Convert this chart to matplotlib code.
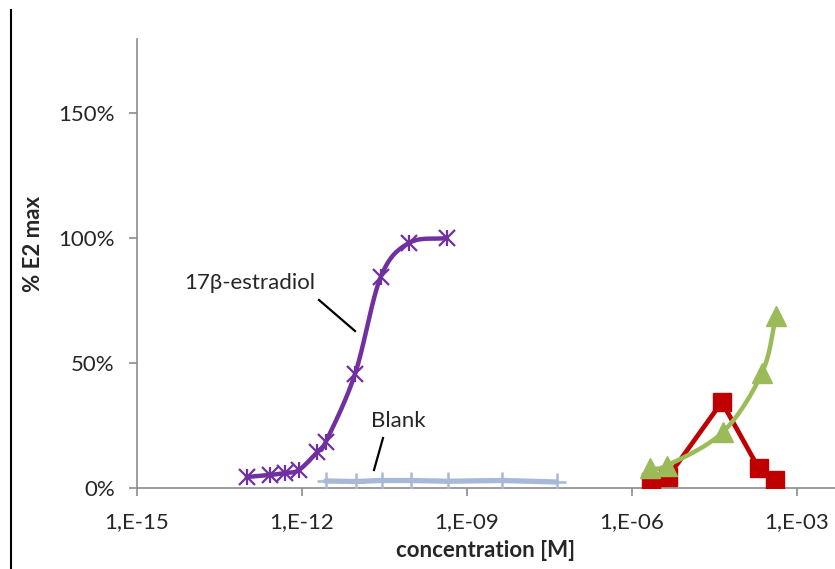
import numpy as np
import matplotlib
matplotlib.use("Agg")
import matplotlib.pyplot as plt
from matplotlib.lines import Line2D

plt.rcParams['font.family'] = ['Lato', 'DejaVu Sans']

# 17b-estradiol
e2_conc = [1e-13, 2.6e-13, 4.9e-13, 8.8e-13, 1.9e-12, 2.7e-12, 9.2e-12, 2.7e-11, 8.8e-11, 4.3e-10]
e2_resp = [0.044, 0.052, 0.060, 0.072, 0.144, 0.184, 0.456, 0.844, 0.980, 1.000]

# blank
blank_conc = [2.7e-12, 9.6e-12, 2.8e-11, 9.4e-11, 4.5e-10, 4.4e-09, 4.3e-08]
blank_resp = [0.028, 0.026, 0.030, 0.030, 0.027, 0.030, 0.024]

# red squares
red_conc = [2.2e-06, 4.5e-06, 4.3e-05, 2.0e-04, 4.0e-04]
red_resp = [0.024, 0.044, 0.344, 0.080, 0.032]

# green triangles
green_conc = [2.1e-06, 4.3e-06, 4.5e-05, 2.3e-04, 4.2e-04]
green_resp = [0.080, 0.090, 0.224, 0.460, 0.690]

xticks = [1e-15, 1e-12, 1e-09, 1e-06, 1e-03]
xticklabels = ['1,E-15', '1,E-12', '1,E-09', '1,E-06', '1,E-03']
yticks = [0, 0.5, 1.0, 1.5]
yticklabels = ['0%', '50%', '100%', '150%']


def smooth(xs, ys, n=30):
    # catmull-rom in log-x space, like excel's smoothed line
    lx = np.log10(xs)
    y = np.asarray(ys, dtype=float)
    px = np.concatenate([[2 * lx[0] - lx[1]], lx, [2 * lx[-1] - lx[-2]]])
    py = np.concatenate([[2 * y[0] - y[1]], y, [2 * y[-1] - y[-2]]])
    outx, outy = [], []
    t = np.linspace(0, 1, n)
    for i in range(1, len(px) - 2):
        for arr, out in ((px, outx), (py, outy)):
            p0, p1, p2, p3 = arr[i - 1], arr[i], arr[i + 1], arr[i + 2]
            seg = 0.5 * ((2 * p1) + (-p0 + p2) * t
                         + (2 * p0 - 5 * p1 + 4 * p2 - p3) * t ** 2
                         + (-p0 + 3 * p1 - 3 * p2 + p3) * t ** 3)
            out.extend(seg)
    return 10 ** np.array(outx), np.array(outy)


fig = plt.figure(figsize=(8.35, 5.69), dpi=100)
ax = fig.add_axes([137 / 835, 1 - 488 / 569, 1 - 137 / 835, 449 / 569])

purple = '#7030A0'
blue = '#A7B9D6'
red = '#C00000'
green = '#9BBB59'
fs = 16

# blank
ax.plot(blank_conc, blank_resp, color=blue, lw=3.8, solid_capstyle='round', zorder=2)
ax.plot(blank_conc, blank_resp, ls='none', marker='+', ms=13, mew=1.8, color=blue, zorder=3)

# estradiol
sx, sy = smooth(e2_conc, e2_resp)
ax.plot(sx, sy, color=purple, lw=3.2, zorder=4)
ax.plot(e2_conc, e2_resp, ls='none', marker='x', ms=11, mew=1.6, color=purple, zorder=5)
ax.plot(e2_conc, e2_resp, ls='none', marker='|', ms=11, mew=1.6, color=purple, zorder=5)

# red
ax.plot(red_conc, red_resp, color=red, lw=3.4, marker='s', ms=13.5, zorder=4)

# green
gx, gy = smooth(green_conc, green_resp)
ax.plot(gx, gy, color=green, lw=3.2, zorder=5)
ax.plot(green_conc, green_resp, ls='none', marker='^', ms=14, color=green, zorder=6)

ax.set_xscale('log')
ax.set_xlim(1e-15, 10 ** (-3 + 38 / 55))
ax.set_ylim(0, 449 / 250)
ax.xaxis.set_minor_locator(matplotlib.ticker.NullLocator())
ax.set_xticks(xticks)
ax.set_xticklabels(xticklabels)
ax.set_yticks(yticks)
ax.set_yticklabels(yticklabels)

for s in ('top', 'right'):
    ax.spines[s].set_visible(False)
for s in ('left', 'bottom'):
    ax.spines[s].set_color('#8C8C8C')
    ax.spines[s].set_linewidth(1.2)
ax.tick_params(axis='both', colors='#8C8C8C', labelcolor='#262626', labelsize=fs,
               length=6, width=1.2, direction='out')
ax.tick_params(axis='x', pad=11)
ax.tick_params(axis='y', pad=10)

ax.set_xlabel('concentration [M]', fontsize=fs, fontweight='bold', color='#262626', labelpad=6)
fig.text(33 / 835, 1 - 244 / 569, '% E2 max', rotation=90, fontsize=fs, fontweight='bold',
         color='#262626', ha='center', va='center')

# annotations
ax.text(10 ** (-15 + (250 - 137) / 55), (488 - 283) / 250, '17\u03b2-estradiol', fontsize=fs,
        color='#262626', ha='center', va='center')
ax.plot([10 ** (-15 + (319 - 137) / 55), 10 ** (-15 + (355 - 137) / 55)],
        [(488 - 300) / 250, (488 - 331) / 250], color='black', lw=1.6, zorder=6)
ax.text(10 ** (-15 + (398 - 137) / 55), (488 - 421) / 250, 'Blank', fontsize=fs,
        color='#262626', ha='center', va='center')
ax.plot([10 ** (-15 + (383 - 137) / 55), 10 ** (-15 + (374 - 137) / 55)],
        [(488 - 438) / 250, (488 - 470) / 250], color='black', lw=1.6, zorder=6)

# frame line on the left edge
fig.add_artist(Line2D([11 / 835, 11 / 835], [0, 1 - 10 / 569], color='black', lw=1.5,
                      transform=fig.transFigure))

fig.savefig('out.png', dpi=100)
